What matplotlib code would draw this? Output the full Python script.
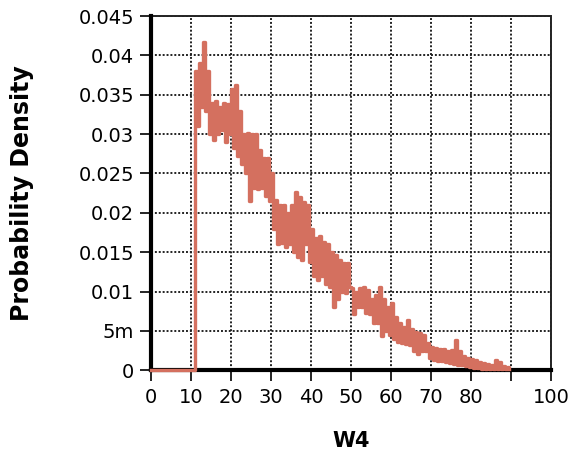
import numpy as np
import matplotlib
matplotlib.use('Agg')
from matplotlib import pyplot as plt

# density samples, every 0.5 from x=11 to x=89.5
x_start, x_step = 11.0, 0.5
density = [
    0.0380, 0.0310, 0.0390, 0.0335, 0.0417, 0.0330, 0.0380, 0.0300, 0.0340, 0.0292,
    0.0342, 0.0300, 0.0335, 0.0305, 0.0340, 0.0290, 0.0338, 0.0300, 0.0358, 0.0282,
    0.0362, 0.0272, 0.0330, 0.0262, 0.0300, 0.0250, 0.0302, 0.0215, 0.0300, 0.0232,
    0.0300, 0.0230, 0.0280, 0.0232, 0.0270, 0.0222, 0.0270, 0.0215, 0.0250, 0.0180,
    0.0216, 0.0160, 0.0210, 0.0162, 0.0210, 0.0157, 0.0200, 0.0160, 0.0210, 0.0150,
    0.0226, 0.0144, 0.0220, 0.0140, 0.0214, 0.0160, 0.0210, 0.0137, 0.0180, 0.0120,
    0.0168, 0.0114, 0.0170, 0.0120, 0.0163, 0.0110, 0.0160, 0.0106, 0.0150, 0.0080,
    0.0146, 0.0090, 0.0140, 0.0100, 0.0136, 0.0098, 0.0136, 0.0106, 0.0105, 0.0072,
    0.0100, 0.0080, 0.0105, 0.0080, 0.0106, 0.0073, 0.0102, 0.0072, 0.0090, 0.0060,
    0.0095, 0.0060, 0.0106, 0.0044, 0.0090, 0.0050, 0.0080, 0.0045, 0.0085, 0.0040,
    0.0067, 0.0036, 0.0060, 0.0034, 0.0055, 0.0033, 0.0064, 0.0032, 0.0052, 0.0025,
    0.0048, 0.0021, 0.0047, 0.0025, 0.0045, 0.0024, 0.0035, 0.0015, 0.0029, 0.0013,
    0.0028, 0.0012, 0.0027, 0.0012, 0.0027, 0.0010, 0.0025, 0.0009, 0.0026, 0.0008,
    0.0038, 0.0007, 0.0024, 0.0006, 0.0018, 0.0005, 0.0016, 0.0004, 0.0014, 0.0003,
    0.0013, 0.0003, 0.0010, 0.0002, 0.0009, 0.0002, 0.0008, 0.0001, 0.0006, 0.0001,
    0.0013, 0.0002, 0.0010, 0.0002, 0.0005, 0.0001, 0.0004, 0.0001,
]
# zero density before the lower bound
zero_x = [0.0, 10.9]
zero_y = [0.0, 0.0]

x_ticks = [0, 10, 20, 30, 40, 50, 60, 70, 80, 90, 100]
x_labels = ['0', '10', '20', '30', '40', '50', '60', '70', '80', '', '100']
y_ticks = [0, 0.005, 0.01, 0.015, 0.02, 0.025, 0.03, 0.035, 0.04, 0.045]
y_labels = ['0', '5m', '0.01', '0.015', '0.02', '0.025', '0.03', '0.035', '0.04', '0.045']

xs = x_start + x_step * np.arange(len(density))
x_all = np.concatenate([zero_x, xs])
y_all = np.concatenate([zero_y, density])

fig = plt.figure(figsize=(5.74, 4.61), dpi=100)
ax = fig.add_axes([0.263, 0.197, 0.697, 0.768])

ax.plot(x_all, y_all, color='#d4705f', lw=2.4, drawstyle='steps-post',
        solid_joinstyle='round', zorder=5, clip_on=False)

ax.set_xlim(0, 100)
ax.set_ylim(0, 0.045)
ax.set_xticks(x_ticks)
ax.set_xticklabels(x_labels)
ax.set_yticks(y_ticks)
ax.set_yticklabels(y_labels)
ax.grid(True, color='#222222', linestyle=(0, (1, 1)), lw=1.4)
ax.tick_params(direction='out', length=8, width=1.2, labelsize=14, colors='black')
ax.tick_params(axis='x', pad=5)
ax.tick_params(axis='y', pad=4)

for s in ['top', 'right']:
    ax.spines[s].set_linestyle((0, (1, 1)))
    ax.spines[s].set_linewidth(1.4)
    ax.spines[s].set_color('#222222')
for s in ['left', 'bottom']:
    ax.spines[s].set_linewidth(3)
    ax.spines[s].set_zorder(4)

ax.set_xlabel('W4', fontsize=15, fontweight='bold', labelpad=17)
ax.set_ylabel('Probability Density', fontsize=17, fontweight='bold', labelpad=32)

fig.savefig('out.png', dpi=100)
